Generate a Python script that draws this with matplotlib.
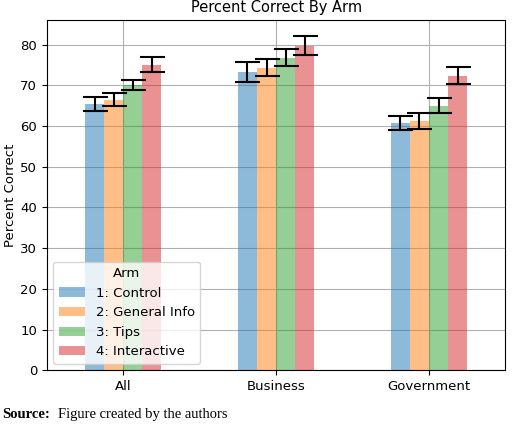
import matplotlib.pyplot as plt
import numpy as np

categories = ["All", "Business", "Government"]
arms = ["1: Control", "2: General Info", "3: Tips", "4: Interactive"]
values = [
    [65.5, 73.3, 60.7],
    [66.5, 74.3, 61.3],
    [70.0, 76.8, 65.0],
    [75.1, 79.7, 72.3],
]
errors = [
    [1.7, 2.5, 1.8],
    [1.6, 2.1, 2.0],
    [1.2, 2.1, 1.8],
    [1.8, 2.3, 2.1],
]
colors = ["tab:blue", "tab:orange", "tab:green", "tab:red"]

plt.rcParams["font.size"] = 9.5
fig = plt.figure(figsize=(5.2, 4.29), dpi=100)
ax = fig.add_axes([0.09, 0.137, 0.882, 0.816])

x = np.arange(len(categories))
w = 0.125
for i, arm in enumerate(arms):
    ax.bar(x + (i - 1.5) * w, values[i], w, yerr=errors[i], color=colors[i],
           alpha=0.5, label=arm, capsize=9, error_kw=dict(elinewidth=1.5, capthick=1.5))

ax.set_xlim(-0.5, 2.5)
ax.set_ylim(0, 86)
ax.set_xticks(x)
ax.set_xticklabels(categories)
ax.set_ylabel("Percent Correct", fontsize=9.5, labelpad=2)
ax.set_title("Percent Correct By Arm", fontsize=10.5)
ax.grid(True)
ax.set_axisbelow(True)
ax.legend(title="Arm", loc="lower left", fontsize=9.5, title_fontsize=9.5)

fig.text(0.005, 0.025, "Source:", fontsize=10.5, family="Liberation Serif", weight="bold")
fig.text(0.112, 0.025, "Figure created by the authors", fontsize=10.5, family="Liberation Serif")
fig.savefig("out.png")
